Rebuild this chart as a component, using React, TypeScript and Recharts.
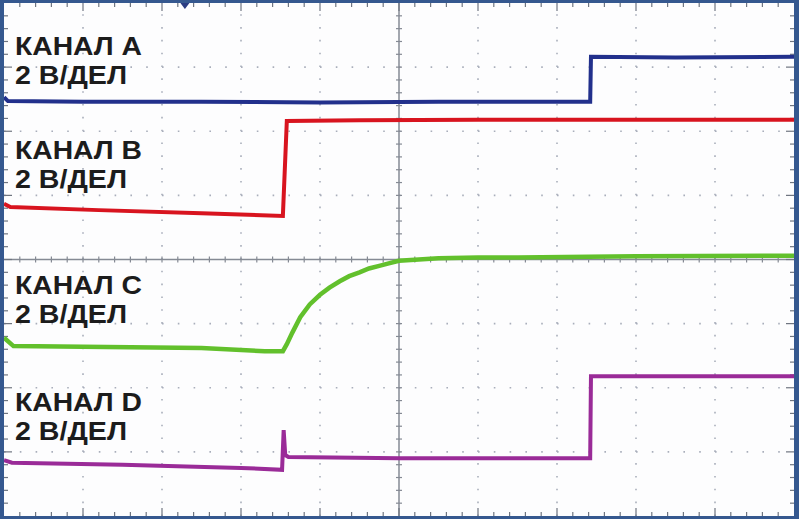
import { ComposedChart, Line, XAxis, YAxis, ReferenceLine, ReferenceDot } from "recharts";

const W = 790;
const H = 513;
const X_DIVS = 10;
const Y_DIVS = 8;
const PX_X = W / X_DIVS;
const PX_Y = H / Y_DIVS;

// time in divisions (0..10), level in divisions (0..8, from bottom)
const tA = [0, 0.05, 1, 2.5, 4, 5.5, 7.42, 7.43, 8.5, 10];
const vA = [6.53, 6.47, 6.46, 6.46, 6.45, 6.46, 6.46, 7.16, 7.15, 7.16];

const tB = [0, 0.08, 1.2, 2.5, 3.53, 3.58, 4.5, 6, 8, 10];
const vB = [4.87, 4.82, 4.77, 4.72, 4.68, 6.16, 6.17, 6.18, 6.18, 6.18];

const tC = [0, 0.12, 1, 2.5, 3.3, 3.53, 3.58, 3.65, 3.75, 3.87, 4.0, 4.12, 4.25, 4.37, 4.5, 4.62, 4.75, 4.87, 5.0, 5.25, 5.5, 6, 6.5, 8, 10];
const vC = [2.78, 2.65, 2.64, 2.62, 2.57, 2.57, 2.68, 2.86, 3.1, 3.3, 3.45, 3.56, 3.66, 3.74, 3.8, 3.86, 3.9, 3.94, 3.98, 4.0, 4.02, 4.03, 4.03, 4.05, 4.06];

const tD = [0, 0.1, 1.5, 3, 3.52, 3.54, 3.56, 3.6, 5, 7.42, 7.43, 8.5, 10];
const vD = [0.87, 0.83, 0.8, 0.75, 0.72, 1.34, 0.95, 0.92, 0.9, 0.9, 2.18, 2.18, 2.18];

const channels = ["A", "B", "C", "D"];
const scaleText = "2 В/ДЕЛ";
const labelTop = [55, 159, 294, 411];
const triggerAt = 2.29;

const zip = (t: number[], v: number[]) => t.map((x, i) => ({ t: x, v: v[i] }));

const minorX = Array.from({ length: X_DIVS * 5 - 1 }, (_, i) => (i + 1) / 5);
const minorY = Array.from({ length: Y_DIVS * 5 - 1 }, (_, i) => (i + 1) / 5);
const isMajor = (v: number) => Math.abs(v - Math.round(v)) < 1e-6;

const GRID = "#a9aebb";
const CROSS = "#858a94";
const TICK = "#6f7580";

const Triangle = (p: any) => (
  <polygon
    points={`${p.cx - 4.5},${p.cy} ${p.cx + 4.5},${p.cy} ${p.cx},${p.cy + 6}`}
    fill="#2a3c82"
  />
);

const labelStyle = {
  fill: "#1c1c1c",
  fontFamily: "'Liberation Sans', Arial, sans-serif",
  fontWeight: "bold" as const,
  fontSize: 25,
};

export default function App() {
  const tickX = (px: number) => px / PX_X;
  const tickY = (px: number) => px / PX_Y;
  return (
    <div
      style={{
        position: "absolute",
        left: 0,
        top: 0,
        width: 799,
        height: 519,
        background: "#35588f",
      }}
    >
      <div style={{ position: "absolute", left: 4, top: 3, width: W, height: H, background: "#fdfdfe" }}>
        <ComposedChart width={W} height={H} margin={{ top: 0, right: 0, bottom: 0, left: 0 }}>
          <XAxis type="number" dataKey="t" domain={[0, X_DIVS]} hide allowDataOverflow />
          <YAxis type="number" domain={[0, Y_DIVS]} hide allowDataOverflow />

          {Array.from({ length: X_DIVS - 1 }, (_, i) => i + 1)
            .filter((x) => x !== 5)
            .map((x) => (
              <ReferenceLine key={"gx" + x} x={x} stroke={GRID} strokeWidth={1.6} strokeDasharray={`1.6 ${PX_Y / 5 - 1.6}`} />
            ))}
          {Array.from({ length: Y_DIVS - 1 }, (_, i) => i + 1)
            .filter((y) => y !== 4)
            .map((y) => (
              <ReferenceLine key={"gy" + y} y={y} stroke={GRID} strokeWidth={1.6} strokeDasharray={`1.6 ${PX_X / 5 - 1.6}`} />
            ))}

          <ReferenceLine x={5} stroke={CROSS} strokeWidth={1.5} />
          <ReferenceLine y={4} stroke={CROSS} strokeWidth={1.5} />

          {minorX.map((x) => (
            <ReferenceLine key={"cx" + x} stroke={CROSS} strokeWidth={1.2} ifOverflow="visible"
              segment={[{ x, y: 4 - tickY(3) }, { x, y: 4 + tickY(3) }]} />
          ))}
          {minorY.map((y) => (
            <ReferenceLine key={"cy" + y} stroke={CROSS} strokeWidth={1.2} ifOverflow="visible"
              segment={[{ x: 5 - tickX(3), y }, { x: 5 + tickX(3), y }]} />
          ))}

          {minorX.map((x) => {
            const l = tickY(isMajor(x) ? 8 : 4);
            return [
              <ReferenceLine key={"tb" + x} stroke={TICK} strokeWidth={1.2} ifOverflow="visible"
                segment={[{ x, y: 0 }, { x, y: l }]} />,
              <ReferenceLine key={"tt" + x} stroke={TICK} strokeWidth={1.2} ifOverflow="visible"
                segment={[{ x, y: Y_DIVS }, { x, y: Y_DIVS - l }]} />,
            ];
          })}
          {minorY.map((y) => {
            const l = tickX(isMajor(y) ? 8 : 4);
            return [
              <ReferenceLine key={"tl" + y} stroke={TICK} strokeWidth={1.2} ifOverflow="visible"
                segment={[{ x: 0, y }, { x: l, y }]} />,
              <ReferenceLine key={"tr" + y} stroke={TICK} strokeWidth={1.2} ifOverflow="visible"
                segment={[{ x: X_DIVS, y }, { x: X_DIVS - l, y }]} />,
            ];
          })}

          <Line data={zip(tA, vA)} dataKey="v" type="linear" dot={false} stroke="#22308c" strokeWidth={4} isAnimationActive={false} />
          <Line data={zip(tB, vB)} dataKey="v" type="linear" dot={false} stroke="#d8141f" strokeWidth={4} isAnimationActive={false} />
          <Line data={zip(tC, vC)} dataKey="v" type="linear" dot={false} stroke="#62c02c" strokeWidth={4.5} isAnimationActive={false} />
          <Line data={zip(tD, vD)} dataKey="v" type="linear" dot={false} stroke="#9a2b98" strokeWidth={4} isAnimationActive={false} />

          <ReferenceDot x={triggerAt} y={Y_DIVS} ifOverflow="visible" shape={Triangle} />
        </ComposedChart>
      </div>
      <svg width={799} height={519} style={{ position: "absolute", left: 0, top: 0, pointerEvents: "none" }}>
        {channels.map((c, i) => [
          <text key={c + "1"} x={15} y={labelTop[i]} {...labelStyle} textLength={127} lengthAdjust="spacingAndGlyphs">
            {`КАНАЛ ${c}`}
          </text>,
          <text key={c + "2"} x={15} y={labelTop[i] + 29} {...labelStyle} textLength={112} lengthAdjust="spacingAndGlyphs">
            {scaleText}
          </text>,
        ])}
      </svg>
    </div>
  );
}
